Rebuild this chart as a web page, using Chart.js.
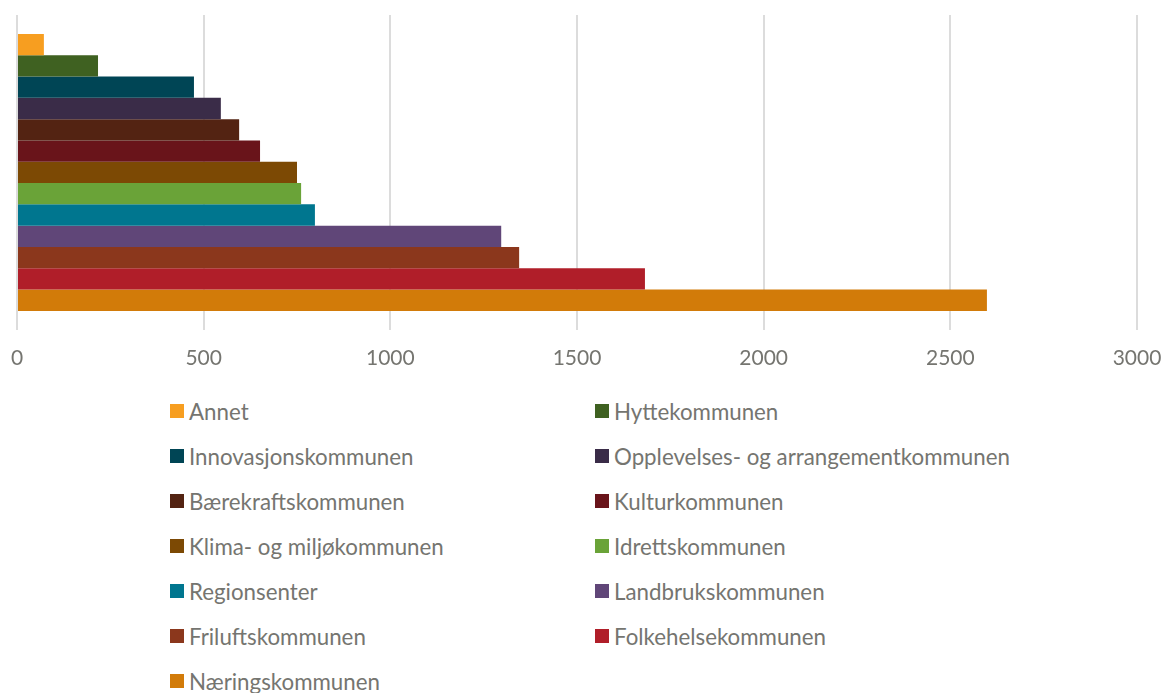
<!DOCTYPE html>
<html>
<head>
<meta charset="utf-8">
<script src="https://cdn.jsdelivr.net/npm/chart.js@4/dist/chart.umd.min.js"></script>
<style>
  html, body { margin: 0; padding: 0; background: #ffffff; }
  body { width: 1165px; height: 693px; position: relative; overflow: hidden; font-family: Lato, "Open Sans", sans-serif; }
  #wrap { position: absolute; left: 0; top: 0; width: 1165px; height: 387px; }
  #legend { position: absolute; left: 170px; top: 394px; width: 950px;
    display: grid; grid-template-columns: 425px 525px; grid-auto-rows: 45px; }
  .item { display: flex; align-items: center; color: #757570; font-size: 22.3px; height: 34px; white-space: nowrap; }
  .box { width: 14px; height: 14px; margin-right: 5px; flex: none; }
</style>
</head>
<body>
<div id="wrap"><canvas id="c"></canvas></div>
<div id="legend"></div>
<script>
const categories = [''];
const seriesNames = [
  'Annet', 'Hyttekommunen', 'Innovasjonskommunen', 'Opplevelses- og arrangementkommunen',
  'Bærekraftskommunen', 'Kulturkommunen', 'Klima- og miljøkommunen', 'Idrettskommunen',
  'Regionsenter', 'Landbrukskommunen', 'Friluftskommunen', 'Folkehelsekommunen', 'Næringskommunen'
];
const seriesValues = [72, 217, 474, 546, 595, 651, 750, 761, 798, 1297, 1345, 1682, 2598];
const seriesColors = [
  '#F79E20', '#3F6121', '#004555', '#3A2C48', '#532312', '#69141A', '#7C4904', '#6AA338',
  '#00768F', '#604678', '#8B371C', '#B01E29', '#D27B09'
];
const xTicks = [0, 500, 1000, 1500, 2000, 2500, 3000];

const datasets = seriesNames.map((name, i) => ({
  label: name,
  data: [seriesValues[i]],
  backgroundColor: seriesColors[i],
  borderWidth: 0,
  barPercentage: 1.0,
  categoryPercentage: 0.88
}));

const chart = new Chart(document.getElementById('c'), {
  type: 'bar',
  data: { labels: categories, datasets },
  options: {
    indexAxis: 'y',
    responsive: true,
    maintainAspectRatio: false,
    animation: false,
    layout: { padding: { left: 17, right: 28, top: 15, bottom: 0 } },
    plugins: { legend: { display: false }, tooltip: { enabled: false } },
    scales: {
      y: { display: false },
      x: {
        min: xTicks[0], max: xTicks[xTicks.length - 1],
        afterBuildTicks: (axis) => { axis.ticks = xTicks.map(v => ({ value: v })); },
        afterFit: (s) => { s.paddingLeft = 0; s.paddingRight = 0; },
        grid: { color: '#dcdcdc', lineWidth: 2, drawTicks: false },
        border: { display: false },
        ticks: { color: '#757570', font: { family: 'Lato', size: 21 }, padding: 16,
                 callback: (v) => String(v) }
      }
    }
  }
});

const leg = document.getElementById('legend');
seriesNames.forEach((name, i) => {
  const d = document.createElement('div');
  d.className = 'item';
  const b = document.createElement('span');
  b.className = 'box';
  b.style.background = seriesColors[i];
  const t = document.createElement('span');
  t.textContent = name;
  d.appendChild(b); d.appendChild(t);
  leg.appendChild(d);
});
</script>
</body>
</html>
